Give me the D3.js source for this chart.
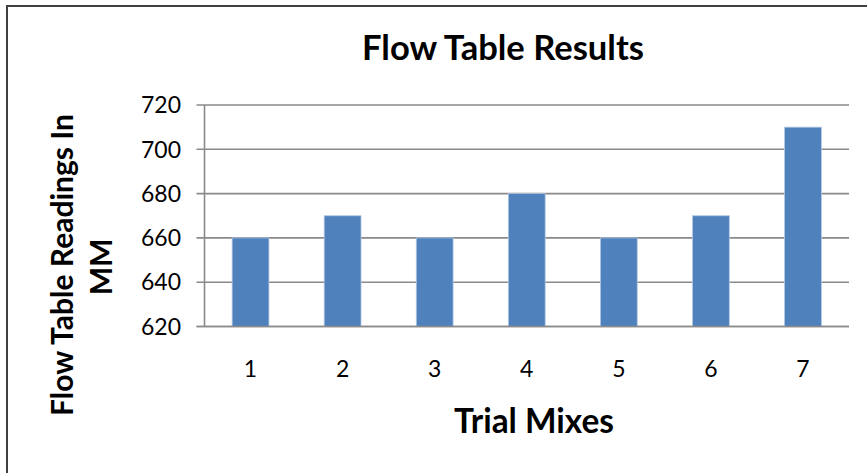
<!DOCTYPE html>
<html><head><meta charset="utf-8">
<script src="https://cdn.jsdelivr.net/npm/d3@7"></script>
<style>html,body{margin:0;padding:0;background:#fff;}svg{display:block;}</style>
</head><body>
<svg id="c" width="867" height="473"></svg>
<script>
const categories = ["1","2","3","4","5","6","7"];
const values = [660, 670, 660, 680, 660, 670, 710];
const yTicks = [620, 640, 660, 680, 700, 720];
const title = "Flow Table Results";
const xTitle = "Trial Mixes";
const yTitleLines = ["Flow Table Readings In", "MM"];

const svg = d3.select("#c");
const FONT = "Lato, 'Open Sans', 'Liberation Sans', sans-serif";

// outer border
svg.append("rect").attr("x", 7).attr("y", 6).attr("width", 900).attr("height", 500)
  .attr("fill", "#fff").attr("stroke", "#404040").attr("stroke-width", 2);

const x0 = 204.5, x1 = 849, yTop = 105, yBot = 326.5;
const x = d3.scaleBand().domain(categories).range([x0, x1]).padding(0);
const y = d3.scaleLinear().domain([620, 720]).range([yBot, yTop]);

function fit(sel, target, start) {
  sel.style("font-size", start + "px");
  const w = sel.node().getComputedTextLength();
  sel.style("font-size", (start * target / w) + "px");
  return sel;
}

// gridlines
const grid = svg.append("g");
grid.selectAll("line").data(yTicks).join("line")
  .attr("x1", x0 - 8).attr("x2", x1)
  .attr("y1", d => y(d)).attr("y2", d => y(d))
  .attr("stroke", "#8a8a8a").attr("stroke-width", 1.6);

// y axis line
svg.append("line").attr("x1", x0).attr("x2", x0).attr("y1", yTop).attr("y2", yBot)
  .attr("stroke", "#8a8a8a").attr("stroke-width", 1.6);

// bars
const bw = x.bandwidth() * 0.4;
svg.append("g").selectAll("rect").data(values).join("rect")
  .attr("x", (d, i) => x(categories[i]) + x.bandwidth() / 2 - bw / 2)
  .attr("width", bw)
  .attr("y", d => y(d))
  .attr("height", d => y(620) - y(d))
  .attr("fill", "#4F81BD")
  .attr("stroke", "#b3c8e3").attr("stroke-width", 0.8);

// redraw baseline over bars
svg.append("line").attr("x1", x0 - 8).attr("x2", x1).attr("y1", yBot).attr("y2", yBot)
  .attr("stroke", "#8a8a8a").attr("stroke-width", 1.6);

// y tick labels
let tickFs = 22;
const tmp = svg.append("text").text("720").style("font-family", FONT);
fit(tmp, 40, 22); tickFs = parseFloat(tmp.style("font-size")); tmp.remove();

svg.append("g").selectAll("text").data(yTicks).join("text")
  .attr("x", 181).attr("y", d => y(d)).attr("dy", "0.36em")
  .attr("text-anchor", "end")
  .style("font-family", FONT).style("font-size", tickFs + "px").attr("fill", "#000")
  .text(d => d);

// x tick labels
svg.append("g").selectAll("text").data(categories).join("text")
  .attr("x", d => x(d) + x.bandwidth() / 2).attr("y", 377)
  .attr("text-anchor", "middle")
  .style("font-family", FONT).style("font-size", tickFs + "px").attr("fill", "#000")
  .text(d => d);

// title
const t = svg.append("text").attr("x", 503).attr("y", 60).attr("text-anchor", "middle")
  .style("font-family", FONT).style("font-weight", "bold").attr("fill", "#000").text(title);
fit(t, 282, 28);

// x title
const xt = svg.append("text").attr("x", 534).attr("y", 433).attr("text-anchor", "middle")
  .style("font-family", FONT).style("font-weight", "bold").attr("fill", "#000").text(xTitle);
fit(xt, 160, 24);

// y title
const yt1 = svg.append("text").attr("transform", "translate(73,265) rotate(-90)")
  .attr("text-anchor", "middle")
  .style("font-family", FONT).style("font-weight", "bold").attr("fill", "#000").text(yTitleLines[0]);
fit(yt1, 302, 24);
const yfs = parseFloat(yt1.style("font-size"));
svg.append("text").attr("transform", "translate(112,267) rotate(-90)")
  .attr("text-anchor", "middle")
  .style("font-family", FONT).style("font-weight", "bold").style("font-size", yfs + "px")
  .attr("fill", "#000").text(yTitleLines[1]);
</script>
</body></html>
